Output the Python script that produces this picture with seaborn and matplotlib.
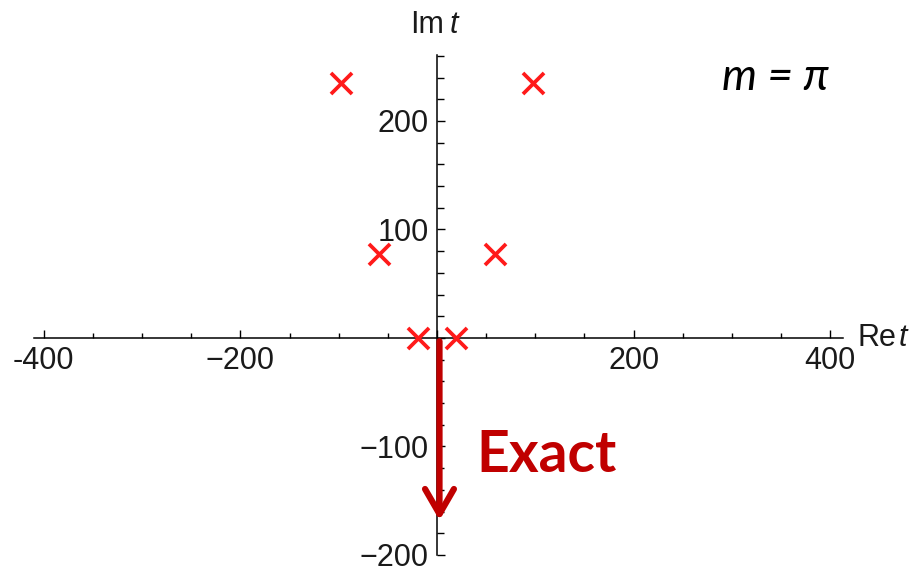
import matplotlib
matplotlib.use("Agg")
import matplotlib.pyplot as plt
from matplotlib.ticker import FixedLocator, FixedFormatter
import seaborn as sns
import pandas as pd
import numpy as np

# Pole locations in the complex t plane
re_t = [-98, 98, -59, 59, -19, 19]
im_t = [235, 235, 77, 77, 0, 0]

# Integration contour for the exact result (straight down the imaginary axis)
arrow_re = [2.5, 2.5]
arrow_im = [-3, -168]

x_ticks = [-400, -200, 0, 200, 400]
x_tick_labels = ["-400", "\u2212200", "", "200", "400"]
y_ticks = [-200, -100, 0, 100, 200]
y_tick_labels = ["\u2212200", "\u2212100", "", "100", "200"]
x_minor = np.arange(-400, 401, 50)
y_minor = np.arange(-200, 261, 20)

sns.set_theme(style="white")
plt.rcParams["font.family"] = ["Liberation Sans", "DejaVu Sans"]

fig = plt.figure(figsize=(9.23, 5.77), dpi=100)
ax = fig.add_axes([0, 0, 1, 1])
ax.set_facecolor("white")

poles = pd.DataFrame({"re": re_t, "im": im_t})
sns.scatterplot(data=poles, x="re", y="im", ax=ax, marker="x", s=230,
                color="#ff1a1a", linewidth=2.7, zorder=5)

ax.set_xlim(-444.6, 494.4)
ax.set_ylim(-220.3, 311.5)
ax.set_xlabel("")
ax.set_ylabel("")

# Axes drawn through the origin
for side in ("top", "right"):
    ax.spines[side].set_visible(False)
ax.spines["left"].set_position(("data", 0))
ax.spines["bottom"].set_position(("data", 0))
ax.spines["left"].set_bounds(-200, 261)
ax.spines["bottom"].set_bounds(-410, 413)
for side in ("left", "bottom"):
    ax.spines[side].set_color("black")
    ax.spines[side].set_linewidth(1.1)

ax.xaxis.set_major_locator(FixedLocator(x_ticks))
ax.xaxis.set_major_formatter(FixedFormatter(x_tick_labels))
ax.xaxis.set_minor_locator(FixedLocator(x_minor))
ax.yaxis.set_major_locator(FixedLocator(y_ticks))
ax.yaxis.set_major_formatter(FixedFormatter(y_tick_labels))
ax.yaxis.set_minor_locator(FixedLocator(y_minor))

ax.tick_params(axis="both", which="both", direction="in", color="black",
               width=1.0, labelsize=22, labelcolor="#1a1a1a")
ax.tick_params(axis="x", which="major", length=6, pad=6)
ax.tick_params(axis="x", which="minor", length=3.5)
ax.tick_params(axis="y", which="major", length=6, pad=6)
ax.tick_params(axis="y", which="minor", length=5)
ax.tick_params(bottom=True, left=True, which="both")
ax.grid(False)

# Axis names
ax.text(-27, 288, "Im", fontsize=22, ha="left", va="center", color="#1a1a1a")
ax.text(13, 288, "t", fontsize=22, ha="left", va="center", color="#1a1a1a",
        fontstyle="italic")
ax.text(428, 0, "Re", fontsize=22, ha="left", va="center", color="#1a1a1a")
ax.text(470, 0, "t", fontsize=22, ha="left", va="center", color="#1a1a1a",
        fontstyle="italic")

# Exact-result contour
ax.annotate("", xy=(arrow_re[1], arrow_im[1]), xytext=(arrow_re[0], arrow_im[0]),
            arrowprops=dict(arrowstyle="->,head_length=0.9,head_width=0.52",
                            mutation_scale=20, color="#c00000", lw=4.5,
                            shrinkA=0, shrinkB=0),
            zorder=6)
ax.text(40, -108, "Exact", fontsize=41, fontweight="bold", color="#c00000",
        family=["Lato", "DejaVu Sans"], ha="left", va="center")

ax.text(290, 240, "m = \u03c0", fontsize=32, fontstyle="italic", color="black",
        family=["Lato", "DejaVu Sans"], ha="left", va="center")

fig.savefig("out.png", dpi=100)
